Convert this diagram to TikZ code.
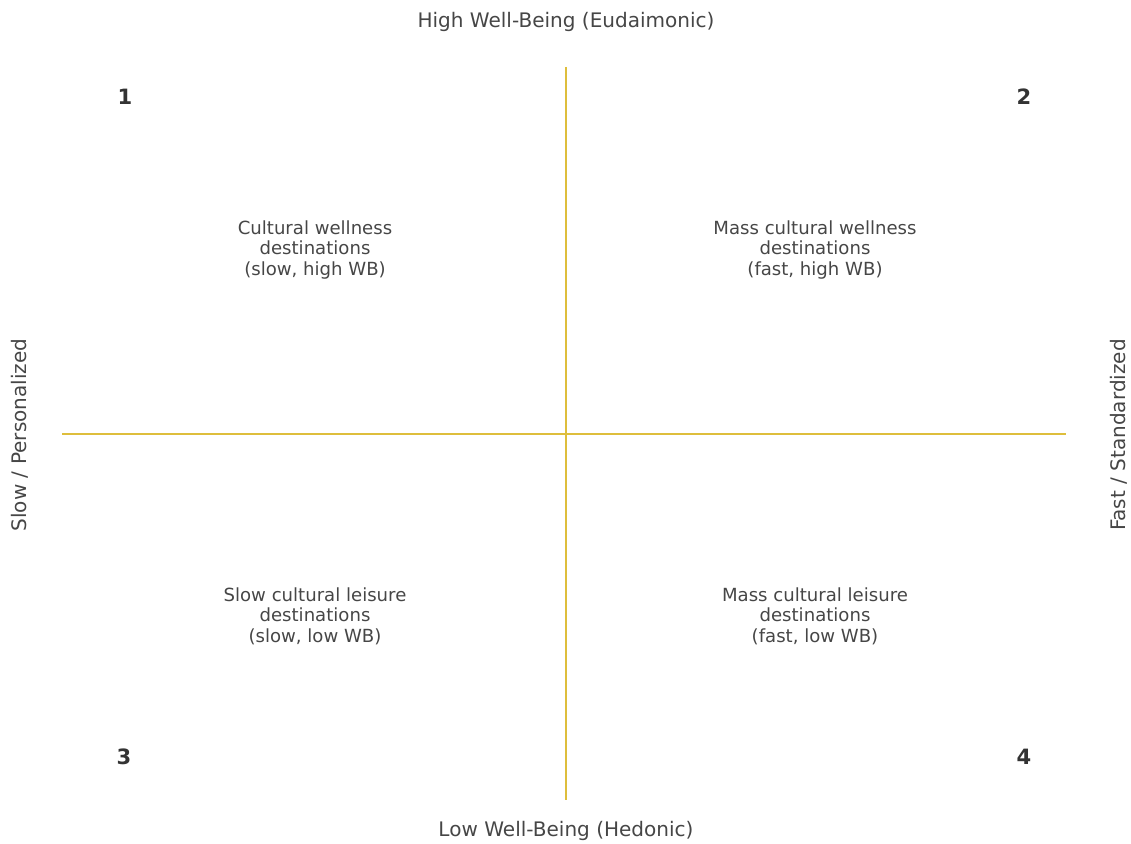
\documentclass[tikz,border=0pt]{standalone}
\usepackage{fontspec}
\setmainfont{DejaVu Sans}
\usepackage{xcolor}
\usetikzlibrary{positioning}
\definecolor{axisyellow}{RGB}{222,190,60}
\definecolor{txtgray}{RGB}{70,70,70}

\begin{document}
\begin{tikzpicture}[x=0.02cm,y=-0.02cm,every node/.style={font=\fontsize{11.4}{13.5}\selectfont,text=txtgray},
  quad/.style={align=center,font=\fontsize{10.3}{11.6}\selectfont},
  num/.style={font=\fontsize{12}{14}\selectfont\bfseries,text=black!80}]
  \useasboundingbox (0,0) rectangle (1131,844);
  % axes through the centre
  \coordinate (top) at (566,67);
  \coordinate (bot) at (566,800);
  \coordinate (lft) at (62,434);
  \coordinate (rgt) at (1066,434);
  \draw[axisyellow,line width=1.1pt] (top) -- (bot);
  \draw[axisyellow,line width=1.1pt] (lft) -- (rgt);
  % axis labels
  \node (high) at (566,22) {High Well-Being (Eudaimonic)};
  \node (low) at (566,831) {Low Well-Being (Hedonic)};
  \node[rotate=90] (slow) at (20,435) {Slow / Personalized};
  \node[rotate=90] (fast) at (1119,435) {Fast / Standardized};
  % quadrant numbers
  \foreach \n/\x/\y in {1/125/97,2/1024/97,3/124/757,4/1024/757}
    \node[num] (n\n) at (\x,\y) {\n};
  % quadrant descriptions
  \node[quad] (q1) at (315,250) {Cultural wellness\\destinations\\(slow, high WB)};
  \node[quad] (q2) at (815,250) {Mass cultural wellness\\destinations\\(fast, high WB)};
  \node[quad] (q3) at (315,616) {Slow cultural leisure\\destinations\\(slow, low WB)};
  \node[quad] (q4) at (815,616) {Mass cultural leisure\\destinations\\(fast, low WB)};
\end{tikzpicture}
\end{document}
